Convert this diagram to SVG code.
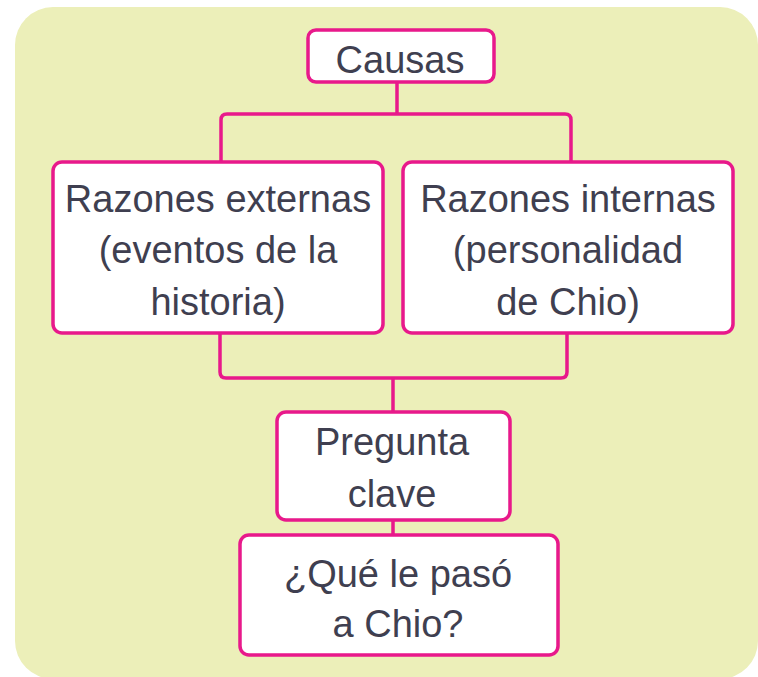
<svg xmlns="http://www.w3.org/2000/svg" width="758" height="677" viewBox="0 0 758 677">
  <style>
    .box { fill: #ffffff; stroke: #e8198b; stroke-width: 3.5; }
    .conn { fill: none; stroke: #e8198b; stroke-width: 3.5; }
    .t { font-family: "Liberation Sans", Arial, sans-serif; font-size: 38px; fill: #3f3f50; text-anchor: middle; }
  </style>
  <rect x="15" y="7" width="743" height="672" rx="38" ry="38" fill="#ecefb9"/>
  <g id="connectors">
    <path class="conn" d="M397 82 V114"/>
    <path class="conn" d="M221 162 V120 Q221 114 227 114 H565 Q571 114 571 120 V162"/>
    <path class="conn" d="M220 333 V372 Q220 378 226 378 H561 Q567 378 567 372 V333"/>
    <path class="conn" d="M393 378 V412"/>
    <path class="conn" d="M393 520 V535"/>
  </g>
  <g id="causas">
    <rect class="box" x="308" y="30" width="186" height="52" rx="8"/>
    <text class="t" x="400" y="73">Causas</text>
  </g>
  <g id="razones-externas">
    <rect class="box" x="53" y="162" width="330" height="171" rx="9"/>
    <text class="t" x="218" y="212">Razones externas</text>
    <text class="t" x="218" y="263">(eventos de la</text>
    <text class="t" x="218" y="315">historia)</text>
  </g>
  <g id="razones-internas">
    <rect class="box" x="403" y="162" width="330" height="171" rx="9"/>
    <text class="t" x="568" y="212">Razones internas</text>
    <text class="t" x="568" y="263">(personalidad</text>
    <text class="t" x="568" y="315">de Chio)</text>
  </g>
  <g id="pregunta-clave">
    <rect class="box" x="277" y="412" width="233" height="108" rx="9"/>
    <text class="t" x="392" y="455">Pregunta</text>
    <text class="t" x="392" y="507">clave</text>
  </g>
  <g id="que-le-paso">
    <rect class="box" x="240" y="535" width="318" height="120" rx="9"/>
    <text class="t" x="398" y="587">¿Qué le pasó</text>
    <text class="t" x="398" y="637">a Chio?</text>
  </g>
</svg>
